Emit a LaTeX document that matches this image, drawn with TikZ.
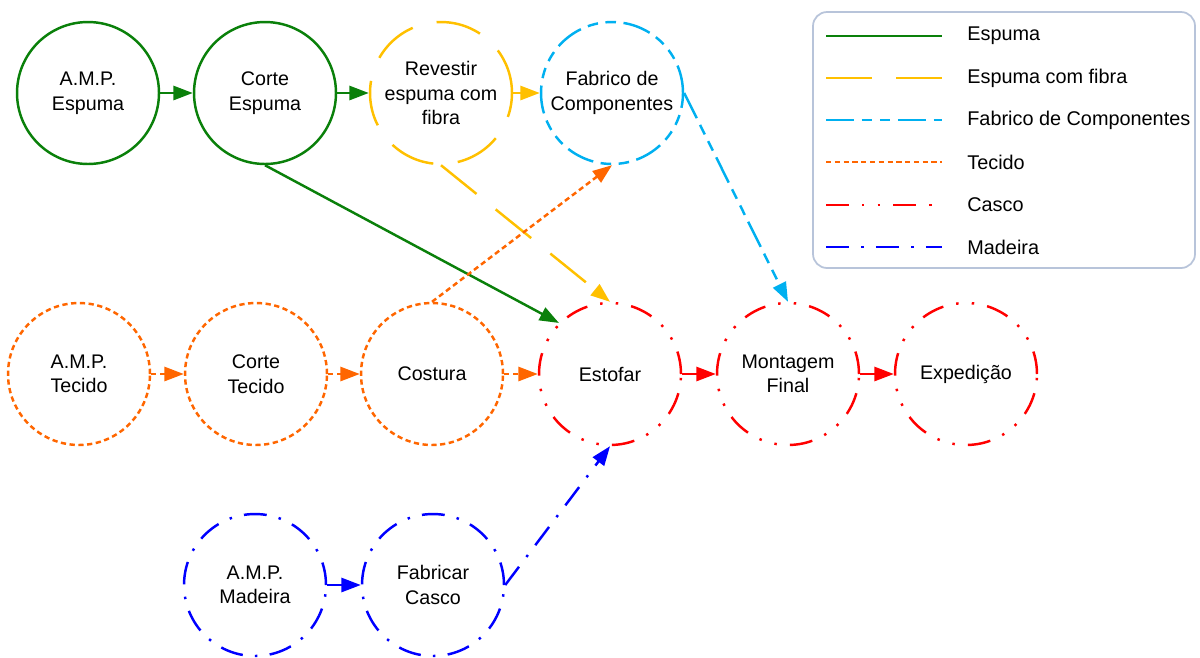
\documentclass[tikz,border=0pt]{standalone}
\usepackage{fontspec}
\setmainfont{Liberation Sans}
\usetikzlibrary{arrows.meta}

\definecolor{espumagreen}{HTML}{0A800A}
\definecolor{fibrayellow}{HTML}{FFC000}
\definecolor{fabricocyan}{HTML}{00B0F0}
\definecolor{tecidoorange}{HTML}{FF6600}
\definecolor{cascored}{HTML}{FF0000}
\definecolor{madeirablue}{HTML}{0000FF}
\definecolor{legendframe}{HTML}{B8C4DA}

\tikzset{
  espuma/.style={draw=espumagreen, line width=1.4pt},
  fibra/.style={draw=fibrayellow, line width=1.4pt, dash pattern=on 26pt off 14pt},
  fabrico/.style={draw=fabricocyan, line width=1.4pt,
    dash pattern=on 16pt off 4.3pt on 6pt off 4.3pt on 6pt off 4.3pt},
  tecido/.style={draw=tecidoorange, line width=1.4pt, dash pattern=on 3pt off 2pt},
  casco/.style={draw=cascored, line width=1.4pt,
    dash pattern=on 13pt off 7.5pt on 1.4pt off 7.5pt on 1.4pt off 7.5pt},
  madeira/.style={draw=madeirablue, line width=1.4pt,
    dash pattern=on 13pt off 7pt on 1.4pt off 7pt},
  proc/.style={circle, minimum size=2.84cm, inner sep=0pt, align=center,
    font=\fontsize{11.2}{14}\selectfont},
  flow/.style={-{Triangle[length=11pt,width=8pt]}},
  legtext/.style={anchor=west, inner sep=0pt, font=\fontsize{11.3}{13}\selectfont}
}

\begin{document}
\begin{tikzpicture}[x=0.02cm, y=-0.02cm]

        \useasboundingbox (0,0) rectangle (1200,657);

        % Espuma
        \node[proc, espuma] (ampespuma) at (88,93) {A.M.P.\\Espuma};
        \node[proc, espuma] (corteespuma) at (265,93) {Corte\\Espuma};
        \node[proc, fibra] (revestir) at (441,93) {Revestir\\espuma com\\fibra};
        \node[proc, fabrico] (fabrico) at (612,93) {Fabrico de\\Componentes};

        % Tecido
        \node[proc, tecido] (amptecido) at (79,374) {A.M.P.\\Tecido};
        \node[proc, tecido] (cortetecido) at (256,374) {Corte\\Tecido};
        \node[proc, tecido] (costura) at (432,374) {Costura};

        % Casco
        \node[proc, casco] (estofar) at (610,374) {Estofar};
        \node[proc, casco] (montagem) at (788,374) {Montagem\\Final};
        \node[proc, casco] (expedicao) at (966,374) {Expedição};

        % Madeira
        \node[proc, madeira] (ampmadeira) at (255,585) {A.M.P.\\Madeira};
        \node[proc, madeira] (fabricar) at (433,585) {Fabricar\\Casco};

        % connectors
        \draw[espuma, flow] (ampespuma) -- (corteespuma);
        \draw[espuma, flow] (corteespuma) -- (revestir);
        \draw[espuma, flow] (corteespuma.south) -- (estofar.north west);
        \draw[fibra, flow] (revestir) -- (fabrico);
        \draw[fibra, flow] (revestir.south) -- (estofar.north);
        \draw[fabrico, flow] (fabrico.east) -- (montagem.north);
        \draw[tecido, flow] (amptecido) -- (cortetecido);
        \draw[tecido, flow] (cortetecido) -- (costura);
        \draw[tecido, flow] (costura) -- (estofar);
        \draw[tecido, flow] (costura.north) -- (fabrico.south);
        \draw[casco, flow] (estofar) -- (montagem);
        \draw[casco, flow] (montagem) -- (expedicao);
        \draw[madeira, flow] (ampmadeira) -- (fabricar);
        \draw[madeira, flow] (fabricar.east) -- (estofar.south);

        % Legend
        \draw[legendframe, line width=1pt, rounded corners=8pt] (813,12) rectangle (1195,268);
        \foreach \sty/\lbl/\yy [count=\i] in {espuma/Espuma/36, fibra/Espuma com fibra/78,
            fabrico/Fabrico de Componentes/120, tecido/Tecido/162,
            casco/Casco/205, madeira/Madeira/247} {
            \coordinate (key\i a) at (826,\yy);
            \coordinate (key\i b) at (942,\yy);
            \draw[\sty] (key\i a) -- (key\i b);
            \node[legtext] (leg\i) at (967,\yy) {\lbl};
        }

    \end{tikzpicture}
\end{document}
